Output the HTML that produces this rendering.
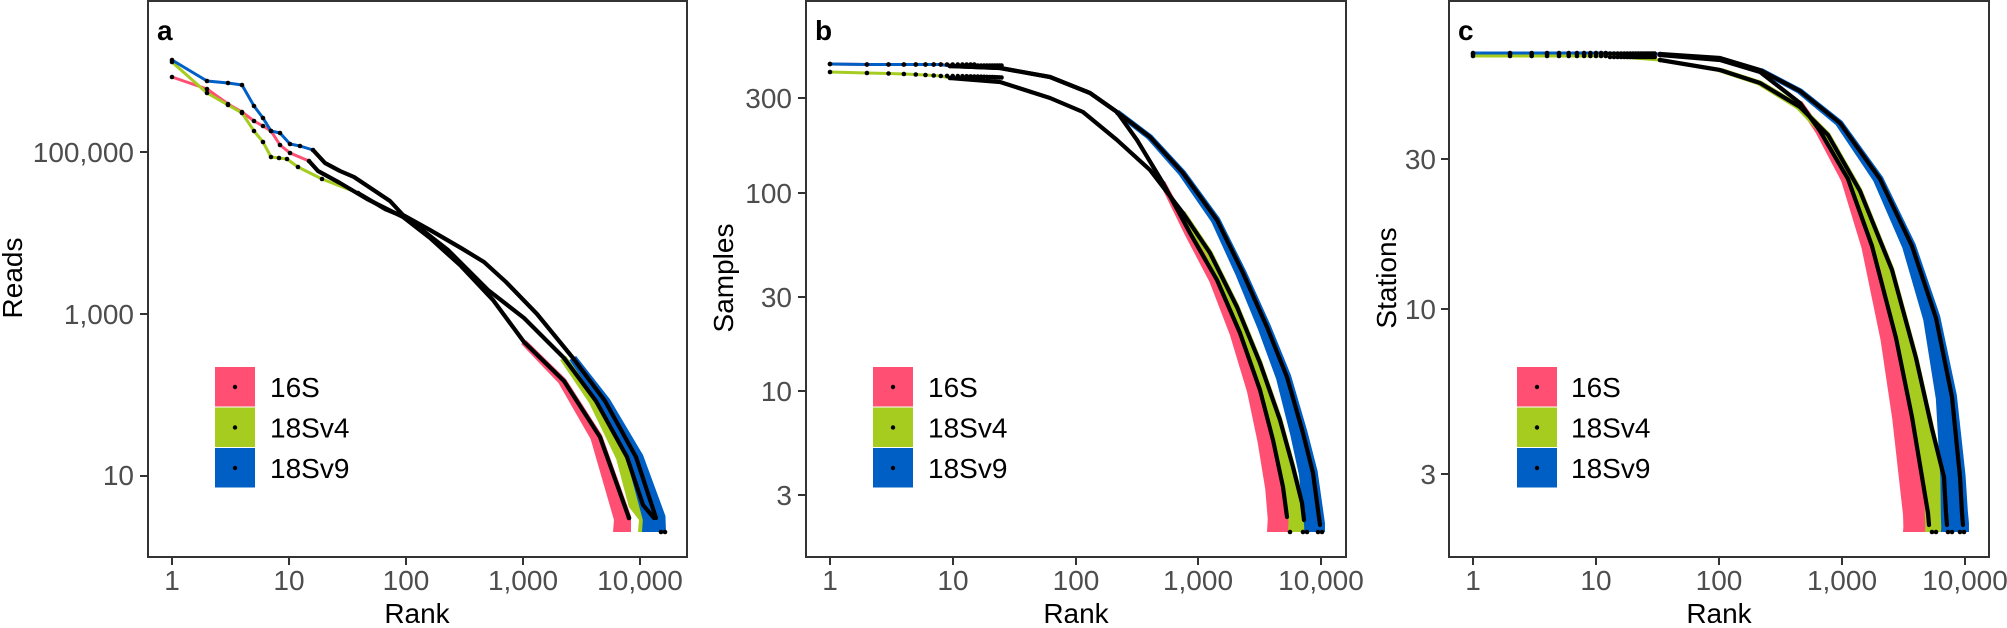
<!DOCTYPE html>
<html><head><meta charset="utf-8"><style>
html,body{margin:0;padding:0;background:#fff;}
svg text{font-family:"Liberation Sans",Arial,sans-serif;}
</style></head><body>
<svg id="s" width="2007" height="623" viewBox="0 0 2007 623" xmlns="http://www.w3.org/2000/svg">
<rect width="2007" height="623" fill="#fff"/>
<g id="g"></g>
<rect x="148" y="1" width="539" height="556" fill="none" stroke="#333" stroke-width="2"/>
<rect x="806" y="1" width="540" height="556" fill="none" stroke="#333" stroke-width="2"/>
<rect x="1449" y="1" width="540" height="556" fill="none" stroke="#333" stroke-width="2"/>
<g font-size="28" fill="#4d4d4d" text-anchor="middle">
<text x="172" y="590">1</text><text x="289" y="590">10</text><text x="406" y="590">100</text><text x="523" y="590">1,000</text><text x="640" y="590">10,000</text>
<text x="830" y="590">1</text><text x="953" y="590">10</text><text x="1076" y="590">100</text><text x="1198" y="590">1,000</text><text x="1321" y="590">10,000</text>
<text x="1473" y="590">1</text><text x="1596" y="590">10</text><text x="1719" y="590">100</text><text x="1842" y="590">1,000</text><text x="1965" y="590">10,000</text>
</g>
<g font-size="28" fill="#4d4d4d" text-anchor="end">
<text x="134" y="162">100,000</text><text x="134" y="324">1,000</text><text x="134" y="485">10</text>
<text x="792" y="108">300</text><text x="792" y="203">100</text><text x="792" y="307">30</text><text x="792" y="401">10</text><text x="792" y="505">3</text>
<text x="1436" y="169">30</text><text x="1436" y="319">10</text><text x="1436" y="484">3</text>
</g>
<g stroke="#333" stroke-width="2">
<line x1="172" y1="557" x2="172" y2="565"/><line x1="289" y1="557" x2="289" y2="565"/><line x1="406" y1="557" x2="406" y2="565"/><line x1="523" y1="557" x2="523" y2="565"/><line x1="640" y1="557" x2="640" y2="565"/>
<line x1="830" y1="557" x2="830" y2="565"/><line x1="953" y1="557" x2="953" y2="565"/><line x1="1076" y1="557" x2="1076" y2="565"/><line x1="1198" y1="557" x2="1198" y2="565"/><line x1="1321" y1="557" x2="1321" y2="565"/>
<line x1="1473" y1="557" x2="1473" y2="565"/><line x1="1596" y1="557" x2="1596" y2="565"/><line x1="1719" y1="557" x2="1719" y2="565"/><line x1="1842" y1="557" x2="1842" y2="565"/><line x1="1965" y1="557" x2="1965" y2="565"/>
<line x1="140" y1="152" x2="148" y2="152"/><line x1="140" y1="314" x2="148" y2="314"/><line x1="140" y1="476" x2="148" y2="476"/>
<line x1="798" y1="98" x2="806" y2="98"/><line x1="798" y1="193" x2="806" y2="193"/><line x1="798" y1="297" x2="806" y2="297"/><line x1="798" y1="391" x2="806" y2="391"/><line x1="798" y1="495" x2="806" y2="495"/>
<line x1="1441" y1="159" x2="1449" y2="159"/><line x1="1441" y1="309" x2="1449" y2="309"/><line x1="1441" y1="474" x2="1449" y2="474"/>
</g>
<g font-size="28" fill="#000" text-anchor="middle">
<text x="417" y="623">Rank</text><text x="1076" y="623">Rank</text><text x="1719" y="623">Rank</text>
<text transform="translate(22,278) rotate(-90)">Reads</text>
<text transform="translate(733,278) rotate(-90)">Samples</text>
<text transform="translate(1396,278) rotate(-90)">Stations</text>
</g>
<g font-size="28" font-weight="bold" fill="#000">
<text x="157" y="40">a</text><text x="815" y="40">b</text><text x="1458" y="40">c</text>
</g>
<g id="leg"></g>
</svg>
<script>
var NS="http://www.w3.org/2000/svg",G=document.getElementById('g'),L=document.getElementById('leg');
var P="#FF5073",Gr="#A5CC1E",B="#005FC4";
function el(t,a,p){var e=document.createElementNS(NS,t);for(var k in a)e.setAttribute(k,a[k]);(p||G).appendChild(e);return e;}
function pl(pts,c,w){el('polyline',{points:pts.map(function(p){return p[0]+','+p[1];}).join(' '),fill:'none',stroke:c,'stroke-width':w,'stroke-linejoin':'round','stroke-linecap':'round'});}
function dot(x,y){el('circle',{cx:x,cy:y,r:2.3,fill:'#000'});}
// band: lower-left widening ribbon
function band(pts,c,y0,wmax,rExtra,yb){
  var q=pts.filter(function(p){return p[1]>=y0;});
  if(!q.length)return;
  var last=q[q.length-1];
  var right=q.map(function(p){var f=(p[1]-y0)/(yb-y0);return [p[0]+2+rExtra*f,p[1]-2];});
  right.push([last[0]+2+rExtra,yb]);
  var left=q.map(function(p){var f=(p[1]-y0)/(yb-y0);return [p[0]-2-wmax*f,p[1]+2];});
  left.push([last[0]-2-wmax,yb]);
  var poly=right.concat(left.reverse());
  el('polygon',{points:poly.map(function(p){return p[0]+','+p[1];}).join(' '),fill:c});
}
function blackPart(pts,k,endDot){
  pl(pts.slice(k),'#000',4.2);
  for(var i=0;i<=k;i++)dot(pts[i][0],pts[i][1]);
  if(endDot)dot(endDot[0],endDot[1]);
}
// ---- Panel a
var aB=[[172,60],[207,81],[228,83],[242,85],[254,106],[263,118],[271,131],[280,133],[290,144],[300,146],[313,150],[325,163],[340,171],[354,177],[378,193],[390,201],[403,215],[430,230],[461,248],[484,262],[506,282],[537,314],[573,358],[605,401],[636,457],[656,518]];
var aG=[[172,62],[207,93],[228,105],[242,113],[254,131],[263,142],[271,157],[279,158],[287,159],[298,167],[322,179],[358,193],[385,209],[407,218],[448,250],[488,290],[524,318],[564,358],[596,401],[627,457],[643,505],[654,518]];
var aP=[[172,77],[207,89],[228,104],[242,112],[254,121],[263,126],[271,131],[280,145],[290,153],[309,161],[318,171],[340,183],[367,199],[403,217],[430,238],[461,266],[493,300],[524,342],[564,381],[600,437],[629,518]];
band(aP,P,330,14,0,532);band(aG,Gr,330,14,0,532);band(aB,B,330,12,8,532);
pl(aP,P,3);pl(aG,Gr,3);pl(aB,B,3);
blackPart(aP,9,[629,518]);blackPart(aG,11);blackPart(aB,10,[665,532]);dot(661,532);
// ---- Panel b
function bx(r){return 830+122.7*Math.log10(r);}
var bT=[[830,64]];for(var r=2;r<=8;r++)bT.push([bx(r),64.5]);
bT=bT.concat([[950,66],[1000,68],[1050,77],[1090,93],[1117,112],[1150,137],[1183,173],[1217,220],[1243,273],[1267,327],[1287,377],[1303,433],[1313,473],[1318,510],[1320,525]]);
var bP=[[830,64]];for(r=2;r<=8;r++)bP.push([bx(r),64.5]);
bP=bP.concat([[950,66],[1000,68],[1050,77],[1090,93],[1117,112],[1137,140],[1163,183],[1190,233],[1217,280],[1240,333],[1260,390],[1273,440],[1283,487],[1287,517]]);
var bG=[[830,72]];for(r=2;r<=8;r++)bG.push([bx(r),72+r*0.5]);
bG=bG.concat([[950,78],[1000,82],[1050,98],[1083,112],[1117,140],[1150,170],[1183,213],[1210,253],[1237,307],[1260,363],[1280,420],[1293,467],[1302,503],[1304,520]]);
band(bP,P,170,18,0,532);band(bG,Gr,200,14,0,532);band(bT,B,110,14,3,532);
pl(bP,P,3);pl(bG,Gr,3);pl(bT,B,3);
blackPart(bP,8,[1290,532]);blackPart(bG,8,[1307,532]);blackPart(bT,8,[1322,532]);
for(r=9;r<=25;r++){dot(bx(r),64.5+(r>15?1:0));dot(bx(r),75+r*0.1);}
dot(1303,532);dot(1318,532);
// ---- Panel c
function cx(r){return 1473+123*Math.log10(r);}
var cBl=[],cGl=[],cPl=[];for(r=1;r<=12;r++){cBl.push([cx(r),53]);cGl.push([cx(r),56]);cPl.push([cx(r),54]);}
cBl=cBl.concat([[1660,54],[1720,58],[1760,70],[1800,91],[1840,123],[1880,179],[1912,246],[1936,318],[1952,397],[1960,477],[1962,513],[1963,525]]);
cGl=cGl.concat([[1660,60],[1720,70],[1760,83],[1800,107],[1828,135],[1860,191],[1892,270],[1916,358],[1932,429],[1944,477],[1946,513],[1947,525]]);
cPl=cPl.concat([[1660,55],[1720,60],[1760,72],[1800,103],[1820,131],[1848,179],[1872,246],[1896,338],[1912,417],[1922,477],[1928,513],[1929,525]]);
band(cPl,P,90,24,0,532);band(cGl,Gr,70,20,0,532);band(cBl,B,70,20,4,532);
pl(cPl,P,3);pl(cGl,Gr,3);pl(cBl,B,3);
blackPart(cPl,12,[1932,532]);blackPart(cGl,12,[1952,532]);blackPart(cBl,12,[1964,532]);
for(r=13;r<=30;r++){dot(cx(r),53.5);dot(cx(r),57);}
dot(1936,532);dot(1948,532);dot(1960,532);
// ---- Legends
function legend(x,tx){var cols=[P,Gr,B],labs=['16S','18Sv4','18Sv9'];
 for(var i=0;i<3;i++){var y=367+i*40.5;
  el('rect',{x:x,y:y,width:40,height:39.5,fill:cols[i]},L);
  el('circle',{cx:x+20,cy:y+20,r:2.2,fill:'#000'},L);
  var t=el('text',{x:tx,y:y+30,'font-size':28,fill:'#000'},L);t.textContent=labs[i];}}
legend(215,270);legend(873,928);legend(1517,1571);
</script>
</body></html>
